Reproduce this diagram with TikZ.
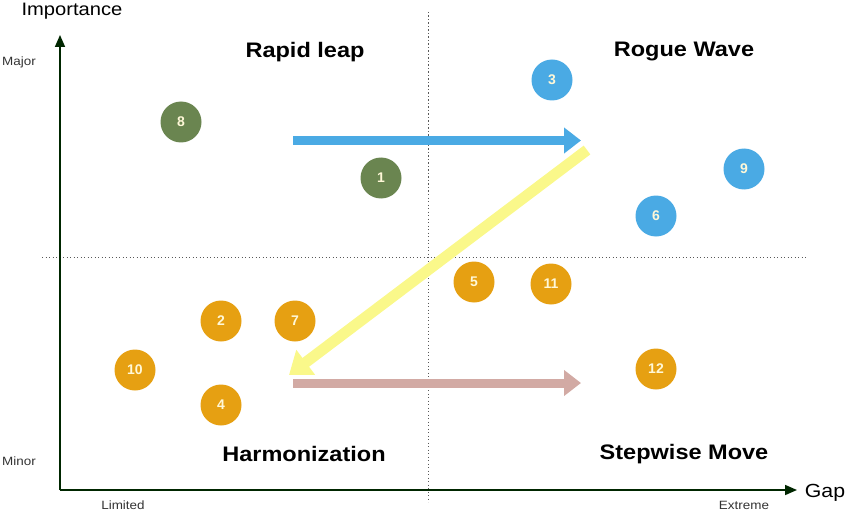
\documentclass[tikz,border=0pt]{standalone}
\usepackage{fontspec}
\usepackage{graphicx}
\setmainfont{Liberation Sans}
\usetikzlibrary{arrows.meta}
\definecolor{cgreen}{HTML}{6A8550}
\definecolor{cblue}{HTML}{4AAAE4}
\definecolor{corange}{HTML}{E6A012}
\definecolor{cyellow}{HTML}{FAF88A}
\definecolor{cpink}{HTML}{D2AAA4}
\definecolor{cnum}{HTML}{FFF8D8}
\newcommand{\widetxt}[1]{\scalebox{1.12}[1]{#1}}
\begin{document}
\begin{tikzpicture}[x=1pt,y=-1pt,
  dot/.style={circle,minimum size=41pt,inner sep=0pt,text=cnum,font=\fontsize{14}{14}\selectfont\bfseries},
  quad/.style={font=\fontsize{21}{21}\selectfont\bfseries,text=black},
  small/.style={font=\fontsize{12}{12}\selectfont,text=black!80},
  big/.style={font=\fontsize{18}{18}\selectfont,text=black},
  axis/.style={line width=1.6pt,-{Triangle[length=12pt,width=10pt]}},
  guide/.style={gray!70!black,line width=0.8pt,dash pattern=on 1.2pt off 2.3pt},
  fat/.style={line width=9pt,-{Triangle[length=17pt,width=25pt]}}
]
\useasboundingbox (0,0) rectangle (850,513);
% guides
\coordinate (vt) at (428,12); \coordinate (vb) at (428,502);
\coordinate (hl) at (42,257); \coordinate (hr) at (806,257);
\draw[guide] (vt) -- (vb);
\draw[guide] (hl) -- (hr);
% axes
\coordinate (o) at (60,490);
\coordinate (ytop) at (60,35);
\coordinate (xend) at (797,490);
\draw[axis,draw=black!85!green] (o) -- (ytop);
\draw[axis,draw=black!85!green] (o) -- (xend);
\node[big] (imp) at (72,11) {\widetxt{Importance}};
\node[big,font=\fontsize{19}{19}\selectfont] (gap) at (825,493) {\widetxt{Gap}};
\node[small] (major) at (19,62) {\widetxt{Major}};
\node[small] (minor) at (19,461) {\widetxt{Minor}};
\node[small] (limited) at (123,505) {\widetxt{Limited}};
\node[small] (extreme) at (744,505) {\widetxt{Extreme}};
% quadrant titles
\node[quad] (q1) at (305,52) {\widetxt{Rapid leap}};
\node[quad] (q2) at (684,52) {\widetxt{Rogue Wave}};
\node[quad] (q3) at (304,454) {\widetxt{Harmonization}};
\node[quad] (q4) at (684,454) {\widetxt{Stepwise Move}};
% arrows
\coordinate (b1) at (293,140.5); \coordinate (b2) at (581,140.5);
\draw[fat,cblue] (b1) -- (b2);
\coordinate (p1) at (293,383); \coordinate (p2) at (581,383);
\draw[fat,cpink] (p1) -- (p2);
\coordinate (y1) at (587,150); \coordinate (y2) at (289,375);
\draw[cyellow,line width=11pt,-{Triangle[length=21pt,width=30pt]}] (y1) -- (y2);
% dots
\node[dot,fill=cgreen] (n8) at (181,122) {8};
\node[dot,fill=cgreen] (n1) at (381,178) {1};
\node[dot,fill=cblue] (n3) at (552,80) {3};
\node[dot,fill=cblue] (n9) at (744,169) {9};
\node[dot,fill=cblue] (n6) at (656,216) {6};
\node[dot,fill=corange] (n5) at (474,282) {5};
\node[dot,fill=corange] (n11) at (551,284) {11};
\node[dot,fill=corange] (n2) at (221,321) {2};
\node[dot,fill=corange] (n7) at (295,321) {7};
\node[dot,fill=corange] (n10) at (135,370) {10};
\node[dot,fill=corange] (n4) at (221,405) {4};
\node[dot,fill=corange] (n12) at (656,369) {12};
\end{tikzpicture}
\end{document}
